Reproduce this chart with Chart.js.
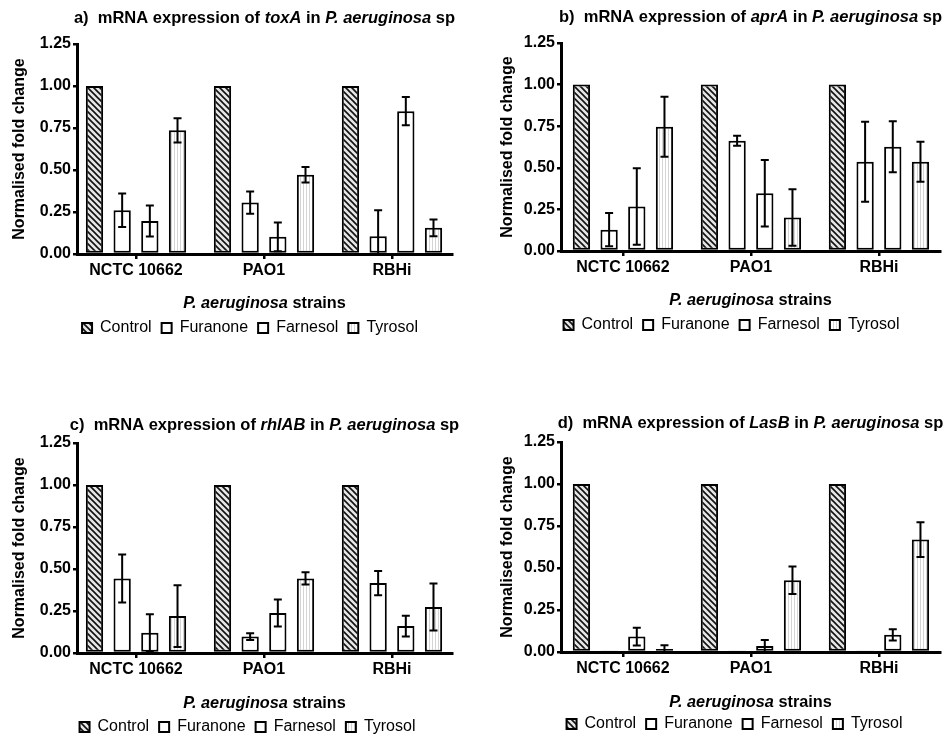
<!DOCTYPE html>
<html>
<head>
<meta charset="utf-8">
<title>mRNA expression in P. aeruginosa</title>
<script src="https://cdn.jsdelivr.net/npm/chart.js@4"></script>
<style>
  html, body { margin: 0; padding: 0; background: #fff; overflow: hidden; }
  #wrap { position: relative; width: 947px; height: 735px; }
  canvas { position: absolute; }
</style>
</head>
<body>
<div id="wrap">
  <canvas id="cA"></canvas>
  <canvas id="cB"></canvas>
  <canvas id="cC"></canvas>
  <canvas id="cD"></canvas>
</div>
<script>
// ---------- data ----------
const strains    = ["NCTC 10662", "PAO1", "RBHi"];
const treatments = ["Control", "Furanone", "Farnesol", "Tyrosol"];
const yTicks     = [0, 0.25, 0.5, 0.75, 1.0, 1.25];

// rows = treatments, columns = strains
const toxAMean = [
  [1, 1, 1],
  [0.26, 0.306, 0.106],
  [0.196, 0.102, 0.85],
  [0.736, 0.472, 0.156],
];
const toxAErr = [
  [0, 0, 0],
  [0.10, 0.066, 0.154],
  [0.092, 0.085, 0.084],
  [0.072, 0.046, 0.05],
];

const aprAMean = [
  [1, 1, 1],
  [0.128, 0.663, 0.536],
  [0.267, 0.347, 0.627],
  [0.747, 0.201, 0.536],
];
const aprAErr = [
  [0, 0, 0],
  [0.10, 0.03, 0.24],
  [0.23, 0.20, 0.153],
  [0.18, 0.17, 0.12],
];

const rhlABMean = [
  [1, 1, 1],
  [0.444, 0.098, 0.416],
  [0.12, 0.238, 0.16],
  [0.22, 0.444, 0.274],
];
const rhlABErr = [
  [0, 0, 0],
  [0.143, 0.02, 0.072],
  [0.11, 0.08, 0.062],
  [0.184, 0.037, 0.14],
];

const lasBMean = [
  [1, 1, 1],
  [0.003, 0.002, 0.004],
  [0.092, 0.036, 0.102],
  [0.018, 0.427, 0.669],
];
const lasBErr = [
  [0, 0, 0],
  [0, 0, 0],
  [0.053, 0.036, 0.034],
  [0.022, 0.082, 0.103],
];

// ---------- layout per panel ----------
const FONT = "'Liberation Sans', Arial, Helvetica, sans-serif";

// x range is in strain-index units, so the groups sit 128px apart like the original
const panels = [
  { canvas: "cA", tag: "a)", gene: "toxA",  mean: toxAMean,  err: toxAErr,
    left: 0,   top: 0,   width: 500, height: 346, yw: 77, rw: 48, padTop: 44, titleY: 18, ytPad: 10.4, xGap: 50, xSpace: 8.6, xMin: -0.461, xMax: 2.469 },
  { canvas: "cB", tag: "b)", gene: "aprA",  mean: aprAMean,  err: aprAErr,
    left: 470, top: 0,   width: 523, height: 343, yw: 91, rw: 53, padTop: 43, titleY: 17, ytPad: 28.4, xGap: 50, xSpace: 8.6, xMin: -0.484, xMax: 2.477 },
  { canvas: "cC", tag: "c)", gene: "rhlAB", mean: rhlABMean, err: rhlABErr,
    left: 0,   top: 390, width: 495, height: 355, yw: 77, rw: 43, padTop: 53, titleY: 35, ytPad: 10.4, xGap: 51, xSpace: 8.6, xMin: -0.461, xMax: 2.469 },
  { canvas: "cD", tag: "d)", gene: "LasB",  mean: lasBMean,  err: lasBErr,
    left: 470, top: 390, width: 529, height: 352, yw: 91, rw: 59, padTop: 52, titleY: 33, ytPad: 28.4, xGap: 51, xSpace: 6.6, xMin: -0.484, xMax: 2.477 },
];

// ---------- fills ----------
function hatch() {
  const s = 6, c = document.createElement("canvas");
  c.width = c.height = s;
  const g = c.getContext("2d");
  g.fillStyle = "#e6e6e6";
  g.fillRect(0, 0, s, s);
  g.strokeStyle = "#111";
  g.lineWidth = 1.6;
  g.beginPath();
  g.moveTo(-1, -1); g.lineTo(s + 1, s + 1);
  g.moveTo(-1, s - 1); g.lineTo(1, s + 1);
  g.moveTo(s - 1, -1); g.lineTo(s + 1, 1);
  g.stroke();
  return g.createPattern(c, "repeat");
}
function vlines() {
  const c = document.createElement("canvas");
  c.width = 3; c.height = 2;
  const g = c.getContext("2d");
  g.fillStyle = "#fff";
  g.fillRect(0, 0, 3, 2);
  g.fillStyle = "#d4d4d4";
  g.fillRect(0, 0, 1, 2);
  return g.createPattern(c, "repeat");
}
const fills = [hatch(), "#ffffff", "#ffffff", vlines()];

// ---------- plugins ----------
const errorBars = {
  id: "errorBars",
  afterDatasetsDraw(chart) {
    const { ctx, chartArea } = chart;
    const y = chart.scales.y;
    ctx.save();
    ctx.strokeStyle = "#000";
    ctx.lineWidth = 2;
    chart.data.datasets.forEach((ds, di) => {
      chart.getDatasetMeta(di).data.forEach((bar, i) => {
        const e = ds.errors[i];
        if (!e) return;
        const v = ds.data[i].y;
        const yt = y.getPixelForValue(v + e);
        const yb = y.getPixelForValue(v - e);
        const ybc = Math.min(yb, chartArea.bottom);
        const x = bar.x, cap = 4;
        ctx.beginPath();
        ctx.moveTo(x, yt); ctx.lineTo(x, ybc);
        ctx.moveTo(x - cap, yt); ctx.lineTo(x + cap, yt);
        if (yb <= chartArea.bottom) { ctx.moveTo(x - cap, yb); ctx.lineTo(x + cap, yb); }
        ctx.stroke();
      });
    });
    ctx.restore();
  },
};

// titles with mixed italic runs
function drawRuns(ctx, runs, cx, cy, size) {
  const fontOf = it => `${it ? "italic " : ""}bold ${size}px ${FONT}`;
  let total = 0;
  runs.forEach(([t, it]) => { ctx.font = fontOf(it); total += ctx.measureText(t).width; });
  let x = cx - total / 2;
  ctx.textBaseline = "middle";
  ctx.textAlign = "left";
  ctx.fillStyle = "#000";
  runs.forEach(([t, it]) => { ctx.font = fontOf(it); ctx.fillText(t, x, cy); x += ctx.measureText(t).width; });
}
const richTitles = {
  id: "richTitles",
  afterDraw(chart, args, opts) {
    const { ctx, chartArea } = chart;
    const cx = (chartArea.left + chartArea.right) / 2;
    ctx.save();
    drawRuns(ctx, opts.title, cx, opts.titleY, 16.5);
    drawRuns(ctx, opts.xTitle, cx, chartArea.bottom + opts.xGap, 16.3);
    ctx.restore();
  },
};

// ---------- charts ----------
panels.forEach(p => {
  const el = document.getElementById(p.canvas);
  el.width = p.width; el.height = p.height;
  el.style.left = p.left + "px"; el.style.top = p.top + "px";

  const datasets = treatments.map((name, t) => ({
    label: name,
    data: strains.map((s, i) => ({ x: i, y: p.mean[t][i] })),
    errors: p.err[t],
    backgroundColor: fills[t],
    borderColor: "#000",
    borderWidth: 2,
    borderSkipped: false,
    barPercentage: 0.625,
    categoryPercentage: 0.865,
    yAxisID: "y",
  }));

  new Chart(el, {
    type: "bar",
    data: { datasets },
    plugins: [errorBars, richTitles],
    options: {
      responsive: false,
      animation: false,
      devicePixelRatio: 1,
      layout: { padding: { top: p.padTop, left: 0, right: 0, bottom: 0 } },
      plugins: {
        tooltip: { enabled: false },
        legend: {
          position: "bottom",
          labels: {
            color: "#000",
            boxWidth: 10,
            boxHeight: 10,
            padding: 10,
            font: { family: FONT, size: 16 },
          },
        },
        richTitles: {
          title: [[p.tag + "  mRNA expression of ", false], [p.gene, true], [" in ", false], ["P. aeruginosa", true], [" sp", false]],
          titleY: p.titleY,
          xTitle: [["P. aeruginosa", true], [" strains", false]],
          xGap: p.xGap,
        },
      },
      scales: {
        x: {
          type: "linear",
          min: p.xMin,
          max: p.xMax,
          offset: false,
          afterBuildTicks: s => { s.ticks = strains.map((n, i) => ({ value: i })); },
          grid: { display: true, offset: false, drawOnChartArea: false, tickLength: 5, color: "#000", lineWidth: 2.5 },
          border: { display: true, color: "#000", width: 3 },
          ticks: { color: "#000", padding: 2, maxRotation: 0, autoSkip: false, callback: v => strains[v], font: { family: FONT, size: 16, weight: "bold" } },
          title: { display: true, text: " ", font: { family: FONT, size: 16, lineHeight: 1.2 }, padding: { top: p.xSpace, bottom: 0 } },
        },
        y: {
          type: "linear",
          position: "left",
          min: 0,
          max: 1.25,
          afterBuildTicks: s => { s.ticks = yTicks.map(v => ({ value: v })); },
          afterFit: s => { s.width = p.yw; },
          grid: { display: true, drawOnChartArea: false, tickLength: 4, color: "#000", lineWidth: 2.5 },
          border: { display: true, color: "#000", width: 3 },
          ticks: { color: "#000", padding: 2, callback: v => v.toFixed(2), font: { family: FONT, size: 16, weight: "bold" } },
          title: {
            display: true, text: "Normalised fold change", color: "#000",
            font: { family: FONT, size: 16, weight: "bold", lineHeight: 1.2 },
            padding: { top: p.ytPad, bottom: 0 },
          },
        },
        spacer: {
          type: "linear",
          position: "right",
          display: true,
          grid: { display: false },
          border: { display: false },
          ticks: { display: false },
          afterFit: s => { s.width = p.rw; },
        },
      },
    },
  });
});
</script>
</body>
</html>
